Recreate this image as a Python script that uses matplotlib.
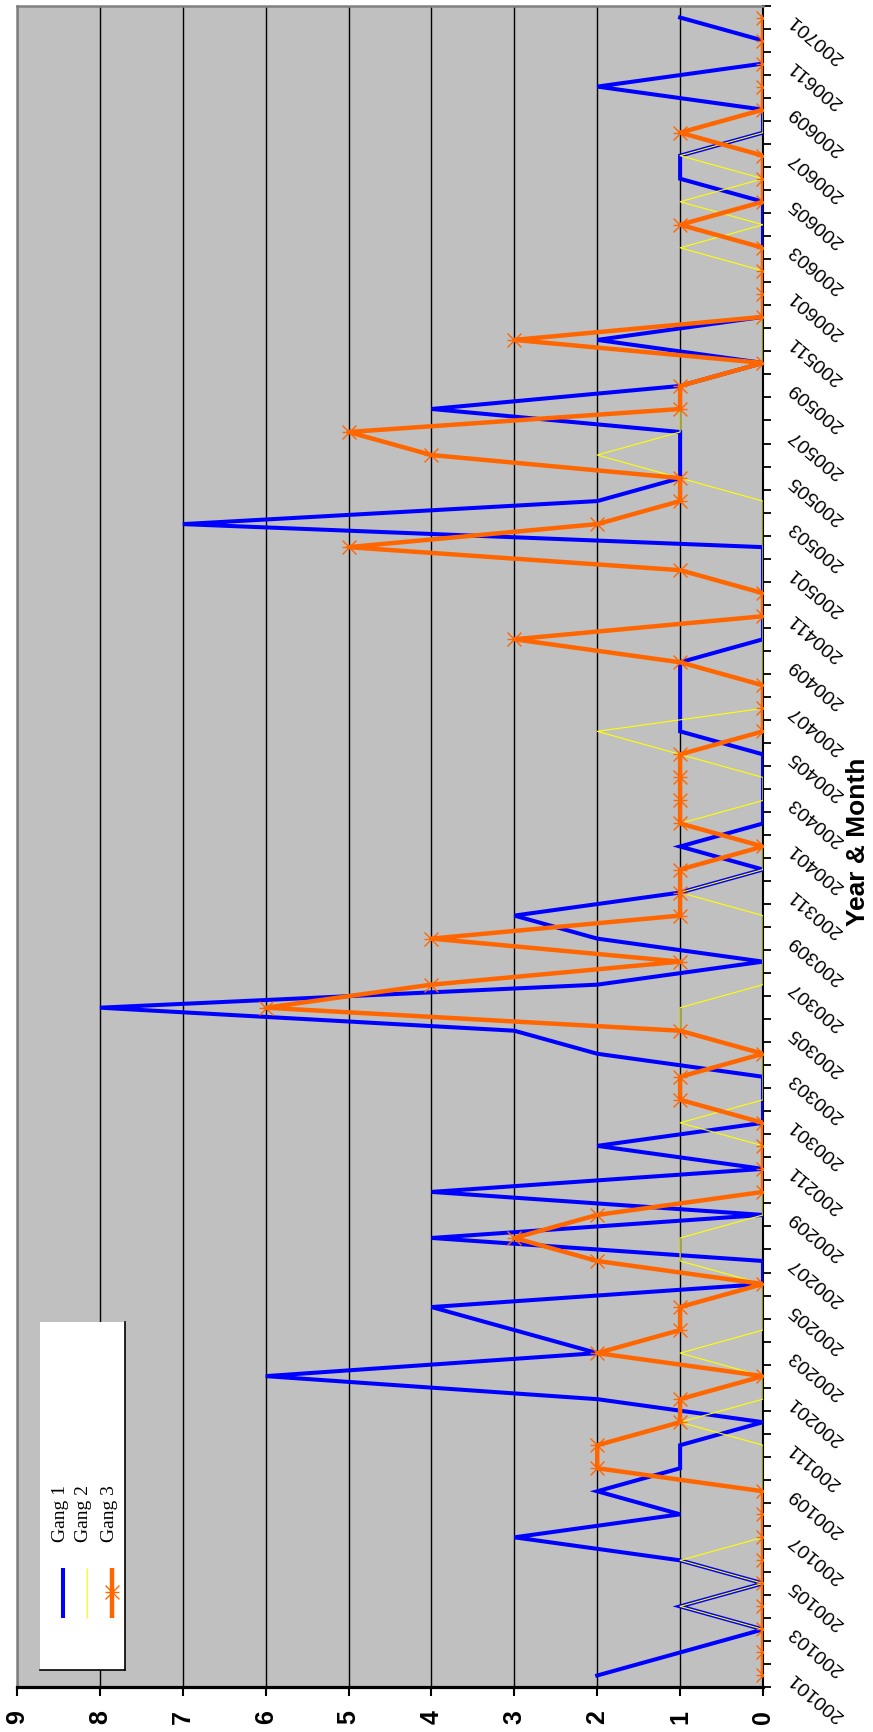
import matplotlib
matplotlib.use("Agg")
import matplotlib.pyplot as plt
import numpy as np
from matplotlib.path import Path
from matplotlib.patches import Rectangle
from matplotlib.lines import Line2D

# ---------------- data ----------------
months = [
    "200101", "200102", "200103", "200104", "200105", "200106", "200107", "200108", "200109", "200110", "200111", "200112",
    "200201", "200202", "200203", "200204", "200205", "200206", "200207", "200208", "200209", "200210", "200211", "200212",
    "200301", "200302", "200303", "200304", "200305", "200306", "200307", "200308", "200309", "200310", "200311", "200312",
    "200401", "200402", "200403", "200404", "200405", "200406", "200407", "200408", "200409", "200410", "200411", "200412",
    "200501", "200502", "200503", "200504", "200505", "200506", "200507", "200508", "200509", "200510", "200511", "200512",
    "200601", "200602", "200603", "200604", "200605", "200606", "200607", "200608", "200609", "200610", "200611", "200612",
    "200701",
]
gang1 = [2, 1, 0, 1, 0, 1, 3, 1, 2, 1, 1, 0,
         2, 6, 2, 3, 4, 0, 0, 4, 0, 4, 0, 2,
         0, 0, 0, 2, 3, 8, 2, 0, 2, 3, 1, 0,
         1, 0, 0, 0, 0, 1, 1, 1, 1, 0, 0, 0,
         0, 0, 7, 2, 1, 1, 1, 4, 1, 0, 2, 0,
         0, 0, 0, 0, 0, 1, 1, 0, 0, 2, 0, 0,
         1]
gang2 = [0, 0, 0, 1, 0, 1, 0, 0, 0, 0, 0, 1,
         0, 0, 1, 0, 0, 0, 1, 1, 0, 0, 0, 0,
         1, 0, 0, 0, 1, 1, 0, 0, 0, 0, 1, 0,
         0, 1, 0, 0, 1, 2, 0, 0, 0, 0, 0, 0,
         0, 0, 0, 0, 1, 2, 1, 1, 1, 0, 0, 0,
         0, 0, 1, 0, 1, 0, 1, 0, 0, 0, 0, 0,
         0]
gang3 = [0, 0, 0, 0, 0, 0, 0, 0, 0, 2, 2, 1,
         1, 0, 2, 1, 1, 0, 2, 3, 2, 0, 0, 0,
         0, 1, 1, 0, 1, 6, 4, 1, 4, 1, 1, 1,
         0, 1, 1, 1, 1, 0, 0, 0, 1, 3, 0, 0,
         1, 5, 2, 1, 1, 4, 5, 1, 1, 0, 3, 0,
         0, 0, 0, 1, 0, 0, 0, 1, 0, 0, 0, 0,
         0]
series_names = ["Gang 1", "Gang 2", "Gang 3"]
value_ticks = list(range(0, 10))
axis_title = "Year & Month"

# ---------------- figure ----------------
W, H = 873, 1732
fig = plt.figure(figsize=(W / 100, H / 100), dpi=100)
fig.patch.set_facecolor("white")

PL, PR, PT, PB = 17, 763, 6, 1687  # plot area in pixels
ax = fig.add_axes([PL / W, (H - PB) / H, (PR - PL) / W, (PB - PT) / H])
ax.set_facecolor("#C0C0C0")

idx = np.arange(len(months))

star = Path([(-1, -1), (1, 1), (-1, 1), (1, -1), (-1, 0), (1, 0)],
            [Path.MOVETO, Path.LINETO, Path.MOVETO, Path.LINETO, Path.MOVETO, Path.LINETO])

ax.plot(gang1, idx, color="#0000FF", lw=2.9, zorder=3, solid_joinstyle="miter")
ax.plot(gang2, idx, color="#FFFF00", lw=0.8, zorder=4)
ax.plot(gang3, idx, color="#FF6600", lw=3.2, zorder=5,
        marker=star, markersize=10, markeredgewidth=1.0,
        markeredgecolor="#FF6600", markerfacecolor="none")

ax.set_xlim(9, 0)
ax.set_ylim(-0.5, len(months) - 0.5)

# value axis (bottom)
ax.set_xticks(value_ticks)
ax.set_xticklabels([str(v) for v in value_ticks], rotation=90,
                   fontsize=18, fontweight="bold", family="Liberation Sans")
ax.tick_params(axis="x", direction="out", length=6.5, width=1.5, pad=10, colors="black")
ax.grid(axis="x", color="black", lw=1.0, zorder=1)
ax.grid(axis="y", visible=False)
ax.set_axisbelow(True)

# category axis (right)
ax.yaxis.tick_right()
ax.set_yticks(idx[::2])
ax.set_yticklabels(months[::2], fontsize=14, family="Liberation Sans")
ax.set_yticks(np.arange(-0.5, len(months), 1.0), minor=True)
ax.tick_params(axis="y", which="major", length=0, pad=20)
ax.tick_params(axis="y", which="minor", direction="out", length=6, width=1.3, colors="black")
for lab in ax.get_yticklabels():
    lab.set_rotation(140)
    lab.set_rotation_mode("anchor")
    lab.set_ha("right")
    lab.set_va("center")

for side in ["top", "left"]:
    ax.spines[side].set_color("#808080")
    ax.spines[side].set_linewidth(1.8)
ax.spines["bottom"].set_color("black")
ax.spines["bottom"].set_linewidth(2.3)
ax.spines["right"].set_color("black")
ax.spines["right"].set_linewidth(1.5)

fig.text(858 / W, 1 - 842 / H, axis_title, rotation=90, ha="center", va="center",
         fontsize=19, fontweight="bold", family="Liberation Sans")

# ---------------- legend (drawn rotated) ----------------
def ax_xy(px, py):
    return (px - PL) / (PR - PL), (PB - py) / (PB - PT)

lx0, ly0 = ax_xy(40, 1670)
lx1, ly1 = ax_xy(125, 1322)
ax.add_patch(Rectangle((lx0, ly0), lx1 - lx0, ly1 - ly0, transform=ax.transAxes,
                       facecolor="white", edgecolor="none", zorder=10))
ax.add_line(Line2D([lx1, lx1], [ly0, ly1], transform=ax.transAxes, color="black", lw=1.2, zorder=11))
ax.add_line(Line2D([lx0, lx1], [ly0, ly0], transform=ax.transAxes, color="black", lw=1.2, zorder=11))

leg_styles = [dict(color="#0000FF", lw=2.9),
              dict(color="#FFFF00", lw=0.8),
              dict(color="#FF6600", lw=3.2)]
leg_x = [63, 86.5, 111.5]
for name, st, px in zip(series_names, leg_styles, leg_x):
    xa, ya0 = ax_xy(px, 1618)
    _, ya1 = ax_xy(px, 1568)
    ax.add_line(Line2D([xa, xa], [ya0, ya1], transform=ax.transAxes, zorder=12,
                       solid_capstyle="butt", **st))
    tx, ty = ax_xy(px - 2.5, 1542)
    ax.text(tx, ty, name, transform=ax.transAxes, rotation=90, rotation_mode="anchor",
            ha="left", va="center", fontsize=14, family="Liberation Serif", zorder=12)
xs, ys = ax_xy(111.5, 1592)
ax.add_line(Line2D([xs], [ys], transform=ax.transAxes, marker=star, markersize=10,
                   markeredgewidth=1.0, markeredgecolor="#FF6600", markerfacecolor="none",
                   lw=0, zorder=13))

fig.savefig("out.png", dpi=100, facecolor="white")
